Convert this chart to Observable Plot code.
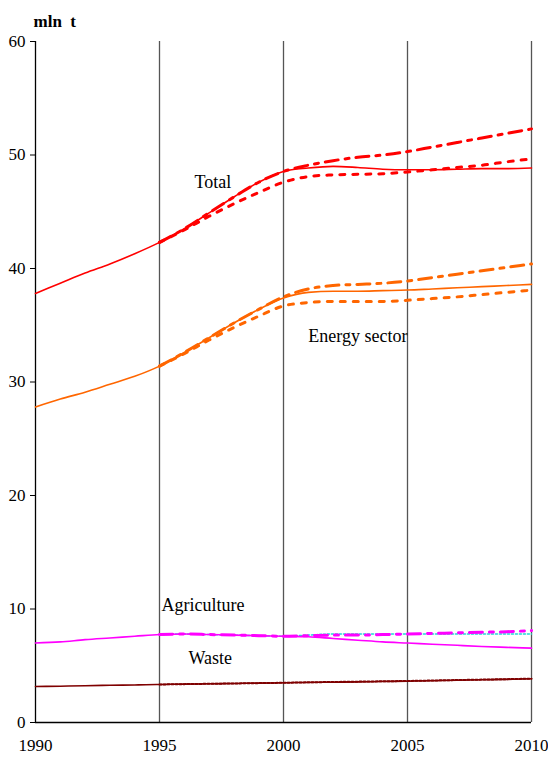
<!DOCTYPE html>
<html>
<head>
<meta charset="utf-8">
<script src="https://cdn.jsdelivr.net/npm/d3@7"></script>
<script src="https://cdn.jsdelivr.net/npm/@observablehq/plot@0.6"></script>
<style>
  html, body { margin: 0; padding: 0; background: #fff; }
  #chart { width: 548px; height: 758px; }
</style>
</head>
<body>
<div id="chart"></div>
<script>
// ---- data ----
const yearsAll = d3.range(1990, 2011);
const yearsScen = d3.range(1995, 2011);

const totalBase = [37.8, 38.7, 39.6, 40.4, 41.3, 42.3, 43.5, 44.9, 46.3, 47.6, 48.55, 48.85, 49.0, 48.9, 48.75, 48.7, 48.7, 48.75, 48.8, 48.8, 48.85];
const totalHigh = [42.3, 43.5, 44.9, 46.3, 47.6, 48.55, 49.1, 49.5, 49.8, 50.0, 50.3, 50.7, 51.1, 51.5, 51.9, 52.3];
const totalLow  = [42.3, 43.4, 44.6, 45.7, 46.7, 47.6, 48.1, 48.25, 48.3, 48.35, 48.5, 48.7, 48.9, 49.1, 49.4, 49.65];

const energyBase = [27.8, 28.5, 29.1, 29.8, 30.5, 31.4, 32.6, 33.9, 35.2, 36.4, 37.4, 37.9, 38.0, 38.0, 38.05, 38.1, 38.2, 38.3, 38.4, 38.5, 38.6];
const energyHigh = [31.4, 32.6, 33.9, 35.2, 36.4, 37.5, 38.2, 38.5, 38.6, 38.7, 38.9, 39.2, 39.5, 39.8, 40.1, 40.4];
const energyLow  = [31.4, 32.5, 33.7, 34.8, 35.8, 36.7, 37.0, 37.1, 37.1, 37.1, 37.2, 37.35, 37.5, 37.7, 37.9, 38.1];

const agriBase = [7.0, 7.1, 7.3, 7.45, 7.6, 7.75, 7.8, 7.75, 7.7, 7.65, 7.6, 7.55, 7.4, 7.25, 7.1, 7.0, 6.9, 6.8, 6.7, 6.62, 6.55];
const agriHigh = [7.75, 7.8, 7.75, 7.7, 7.65, 7.6, 7.65, 7.7, 7.7, 7.75, 7.8, 7.85, 7.9, 7.95, 8.0, 8.1];
const agriLow  = [7.75, 7.8, 7.75, 7.7, 7.65, 7.6, 7.7, 7.8, 7.8, 7.8, 7.8, 7.8, 7.8, 7.8, 7.8, 7.8];

const wasteBase = [3.17, 3.2, 3.24, 3.28, 3.31, 3.35, 3.38, 3.41, 3.44, 3.47, 3.5, 3.53, 3.55, 3.58, 3.61, 3.64, 3.68, 3.72, 3.76, 3.8, 3.85];
const wasteScen = [3.35, 3.38, 3.41, 3.44, 3.47, 3.5, 3.54, 3.57, 3.6, 3.63, 3.66, 3.7, 3.74, 3.78, 3.82, 3.86];

const yTicks = [0, 10, 20, 30, 40, 50, 60];
const xTicks = [1990, 1995, 2000, 2005, 2010];
const gridYears = [1995, 2000, 2005, 2010];

const labelNames  = ["Total", "Energy sector", "Agriculture", "Waste"];
const labelYears  = [1997.15, 2003.0, 1996.75, 1997.05];
const labelValues = [47.6, 34.0, 10.35, 5.65];

const unitLabel = "mln  t";

// ---- build tables ----
const rows = (yrs, vals) => yrs.map((x, i) => ({x, y: vals[i]}));
const labels = labelNames.map((t, i) => ({t, x: labelYears[i], y: labelValues[i]}));

const RED = "#ff0000", ORANGE = "#ff6600", MAGENTA = "#ff00ff", CYAN = "#22d6d6", WASTE = "#7f0000";
const dashDot = "13,7,4,7";
const dotted = "5,8";
const curve = "monotone-x";

const chart = Plot.plot({
  width: 548,
  height: 758,
  marginLeft: 35,
  marginRight: 17,
  marginTop: 41,
  marginBottom: 36,
  style: {fontFamily: "'Liberation Serif', 'Times New Roman', serif", fontSize: "17px", color: "#000", background: "#fff"},
  x: {domain: [1990, 2010], ticks: xTicks, tickFormat: d => String(d), tickSize: 0, tickPadding: 16, label: null},
  y: {domain: [0, 60], ticks: yTicks, tickSize: 5, tickPadding: 5, label: null},
  marks: [
    Plot.ruleX(gridYears, {stroke: "#555", strokeWidth: 1.3}),
    Plot.ruleX([1990], {stroke: "#000", strokeWidth: 1.3}),
    Plot.ruleY([0], {stroke: "#000", strokeWidth: 1.3}),
    // waste
    Plot.line(rows(yearsScen, wasteScen), {x: "x", y: "y", stroke: WASTE, strokeWidth: 2, strokeDasharray: "2,2", curve}),
    Plot.line(rows(yearsAll, wasteBase), {x: "x", y: "y", stroke: WASTE, strokeWidth: 1.6, curve}),
    // agriculture
    Plot.line(rows(yearsScen, agriLow), {x: "x", y: "y", stroke: CYAN, strokeWidth: 1.5, strokeDasharray: "2,2", curve}),
    Plot.line(rows(yearsScen, agriHigh), {x: "x", y: "y", stroke: MAGENTA, strokeWidth: 3, strokeDasharray: dashDot, curve}),
    Plot.line(rows(yearsAll, agriBase), {x: "x", y: "y", stroke: MAGENTA, strokeWidth: 1.6, curve}),
    // energy
    Plot.line(rows(yearsScen, energyLow), {x: "x", y: "y", stroke: ORANGE, strokeWidth: 3, strokeDasharray: dotted, curve}),
    Plot.line(rows(yearsScen, energyHigh), {x: "x", y: "y", stroke: ORANGE, strokeWidth: 3, strokeDasharray: dashDot, curve}),
    Plot.line(rows(yearsAll, energyBase), {x: "x", y: "y", stroke: ORANGE, strokeWidth: 1.6, curve}),
    // total
    Plot.line(rows(yearsScen, totalLow), {x: "x", y: "y", stroke: RED, strokeWidth: 3, strokeDasharray: dotted, curve}),
    Plot.line(rows(yearsScen, totalHigh), {x: "x", y: "y", stroke: RED, strokeWidth: 3, strokeDasharray: dashDot, curve}),
    Plot.line(rows(yearsAll, totalBase), {x: "x", y: "y", stroke: RED, strokeWidth: 1.6, curve}),
    // labels
    Plot.text(labels, {x: "x", y: "y", text: "t", fontSize: 18, fill: "#000"}),
    Plot.text([unitLabel], {frameAnchor: "top-left", text: d => d, dx: -2, dy: -27, fontSize: 17, fontWeight: "bold", textAnchor: "start", fill: "#000"})
  ]
});
document.getElementById("chart").appendChild(chart);
</script>
</body>
</html>
